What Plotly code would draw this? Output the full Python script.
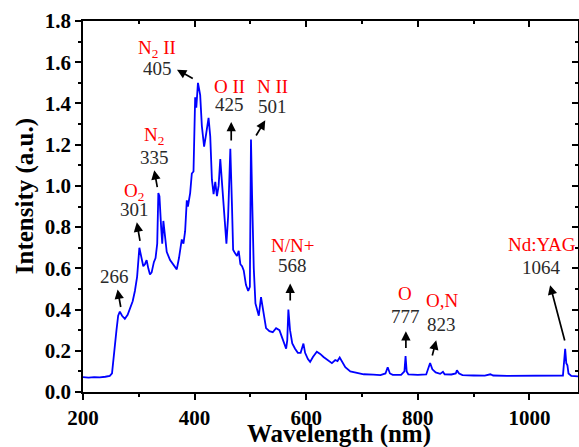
import plotly.graph_objects as go

# Spectrum
wavelength = [200, 210, 220, 230, 240, 248, 252, 256, 260, 263, 266, 270, 275, 280, 284, 289, 293, 297,
              301, 304, 308, 311, 314, 317, 320, 323, 327, 330, 333, 335, 337, 340, 342, 344, 347, 350,
              356, 362, 368, 372, 377, 380, 383, 386, 388, 392, 395, 398, 400, 401, 403, 406, 408, 410,
              413, 417, 420, 422, 425, 428, 431, 434, 437, 440, 443, 446, 449, 453, 457, 460, 464, 467,
              469, 472, 476, 479, 482, 485, 488, 492, 496, 499, 501, 503, 506, 509, 512, 515, 519, 523,
              528, 534, 540, 546, 552, 556, 559, 564, 566, 568, 571, 575, 580, 585, 590, 595, 598, 603,
              607, 612, 619, 625, 631, 638, 646, 652, 656, 660, 665, 670, 679, 690, 703, 720, 733, 742,
              746, 750, 755, 770, 776, 778, 780, 783, 800, 815, 820, 822, 826, 832, 840, 845, 848, 860,
              868, 870, 874, 880, 900, 920, 930, 935, 960, 990, 1020, 1050, 1060, 1064, 1066, 1068, 1070,
              1075, 1087]
intensity = [0.072, 0.070, 0.072, 0.071, 0.074, 0.078, 0.09, 0.18, 0.30, 0.37, 0.39, 0.37, 0.355, 0.375,
             0.40, 0.44, 0.49, 0.56, 0.70, 0.66, 0.61, 0.62, 0.64, 0.60, 0.57, 0.58, 0.63, 0.65, 0.72,
             0.965, 0.95, 0.80, 0.72, 0.83, 0.76, 0.68, 0.64, 0.62, 0.595, 0.65, 0.74, 0.72, 0.78, 0.93,
             0.90, 0.965, 1.06, 1.07, 1.34, 1.43, 1.38, 1.50, 1.47, 1.44, 1.29, 1.19, 1.24, 1.27, 1.33,
             1.24, 1.03, 0.96, 1.02, 0.95, 1.00, 1.13, 1.02, 0.87, 0.72, 0.85, 1.18, 0.90, 0.69, 0.675,
             0.66, 0.685, 0.62, 0.61, 0.59, 0.52, 0.49, 0.51, 1.225, 0.95, 0.60, 0.43, 0.40, 0.37, 0.46,
             0.40, 0.31, 0.295, 0.29, 0.31, 0.30, 0.27, 0.245, 0.21, 0.25, 0.40, 0.30, 0.236, 0.21, 0.19,
             0.19, 0.235, 0.19, 0.16, 0.146, 0.17, 0.195, 0.185, 0.17, 0.155, 0.14, 0.155, 0.15, 0.167,
             0.14, 0.12, 0.10, 0.092, 0.086, 0.084, 0.082, 0.09, 0.12, 0.09, 0.083, 0.083, 0.10, 0.174,
             0.10, 0.085, 0.083, 0.085, 0.12, 0.141, 0.11, 0.095, 0.088, 0.098, 0.086, 0.085, 0.09,
             0.105, 0.09, 0.082, 0.08, 0.079, 0.086, 0.08, 0.078, 0.078, 0.077, 0.077, 0.08, 0.21, 0.14,
             0.13, 0.09, 0.078, 0.076]

# Peak labels: species, wavelength label
species = ["", "O<sub>2</sub>", "N<sub>2</sub>", "N<sub>2</sub> II", "O II", "N II", "N/N+", "O", "O,N", "Nd:YAG"]
peak_labels = ["266", "301", "335", "405", "425", "501", "568", "777", "823", "1064"]

x_ticks = [200, 400, 600, 800, 1000]
y_ticks = [0.0, 0.2, 0.4, 0.6, 0.8, 1.0, 1.2, 1.4, 1.6, 1.8]
x_title = "Wavelength (nm)"
y_title = "Intensity (a.u.)"

# Label placement (species label y, number label x/y, arrow tip, arrow tail)
label_pos = [
    (None, 256.1, 0.561, (262.0, 0.497), (268.1, 0.405)),
    (0.969, 291.9, 0.884, (296.4, 0.823), (302.6, 0.726)),
    (1.241, 327.7, 1.136, (327.7, 1.076), (333.6, 0.987)),
    (1.665, 332.6, 1.569, (368.4, 1.564), (399.4, 1.517)),
    (1.483, 462.5, 1.396, (465.6, 1.310), (465.6, 1.213)),
    (1.483, 539.5, 1.383, (526.6, 1.318), (508.6, 1.237)),
    (0.712, 575.0, 0.612, (571.3, 0.526), (571.3, 0.437)),
    (0.479, 777.5, 0.368, (778.6, 0.295), (778.6, 0.206)),
    (0.445, 842.7, 0.328, (832.9, 0.251), (825.2, 0.170)),
    (0.717, 1022.0, 0.605, (1037.0, 0.518), (1063.9, 0.243)),
]

FONT = "Liberation Serif"

fig = go.Figure()
fig.add_trace(go.Scatter(x=wavelength, y=intensity, mode="lines",
                         line=dict(color="#0000ff", width=1.8), showlegend=False,
                         hoverinfo="skip"))
fig.add_trace(go.Scatter(x=wavelength, y=intensity, mode="lines", xaxis="x2", yaxis="y2",
                         line=dict(color="rgba(0,0,0,0)", width=0), showlegend=False,
                         hoverinfo="skip"))

annotations = []
for sp, num, (sy, nx, ny, tip, tail) in zip(species, peak_labels, label_pos):
    if sp:
        annotations.append(dict(x=nx, y=sy, xref="x", yref="y", text=sp, showarrow=False,
                                font=dict(family=FONT, size=19, color="#ff0000"),
                                xanchor="center", yanchor="middle"))
    annotations.append(dict(x=nx, y=ny, xref="x", yref="y", text=num, showarrow=False,
                            font=dict(family=FONT, size=19, color="#2a2a2a"),
                            xanchor="center", yanchor="middle"))
    annotations.append(dict(x=tip[0], y=tip[1], ax=tail[0], ay=tail[1], xref="x", yref="y",
                            axref="x", ayref="y", text="", showarrow=True, arrowhead=2,
                            arrowsize=1.1, arrowwidth=1.7, arrowcolor="#000000", standoff=0,
                            startstandoff=0))

title_font = dict(family=FONT, size=25, color="black", weight="bold")
annotations.append(dict(x=0.517, y=-0.113, xref="paper", yref="paper", text=x_title, showarrow=False,
                        font=title_font, xanchor="center", yanchor="middle"))
annotations.append(dict(x=-0.117, y=0.528, xref="paper", yref="paper", text=y_title, showarrow=False,
                        font=title_font, xanchor="center", yanchor="middle", textangle=-90))

axis_common = dict(showline=True, linecolor="black", linewidth=1.5, showgrid=False,
                   zeroline=False, tickcolor="black", tickwidth=1.5, ticklen=6, automargin=False)

tick_font = dict(family=FONT, size=21, color="black", weight="bold")

fig.update_layout(
    width=579, height=447,
    margin=dict(l=83, r=1, t=21, b=55),
    paper_bgcolor="white", plot_bgcolor="white",
    annotations=annotations,
    xaxis=dict(range=[200, 1087], tickvals=x_ticks, ticks="outside", tickfont=tick_font,
               minor=dict(dtick=100, ticks="outside", ticklen=3, tickcolor="black", tickwidth=1.5),
               **axis_common),
    yaxis=dict(range=[0, 1.8], tickvals=y_ticks, tickformat=".1f", ticks="outside", tickfont=tick_font,
               minor=dict(dtick=0.1, ticks="outside", ticklen=3, tickcolor="black", tickwidth=1.5),
               **axis_common),
    xaxis2=dict(overlaying="x", side="top", matches="x", range=[200, 1087], tickvals=x_ticks,
                ticks="inside", showticklabels=False,
                minor=dict(dtick=100, ticks="inside", ticklen=3, tickcolor="black", tickwidth=1.5),
                **axis_common),
    yaxis2=dict(overlaying="y", side="right", matches="y", range=[0, 1.8], tickvals=y_ticks,
                ticks="inside", showticklabels=False,
                minor=dict(dtick=0.1, ticks="inside", ticklen=3, tickcolor="black", tickwidth=1.5),
                **axis_common),
)

fig.write_html("out.html", config={"displayModeBar": False},
               post_script="document.body.style.margin='0';document.body.style.overflow='hidden';")
